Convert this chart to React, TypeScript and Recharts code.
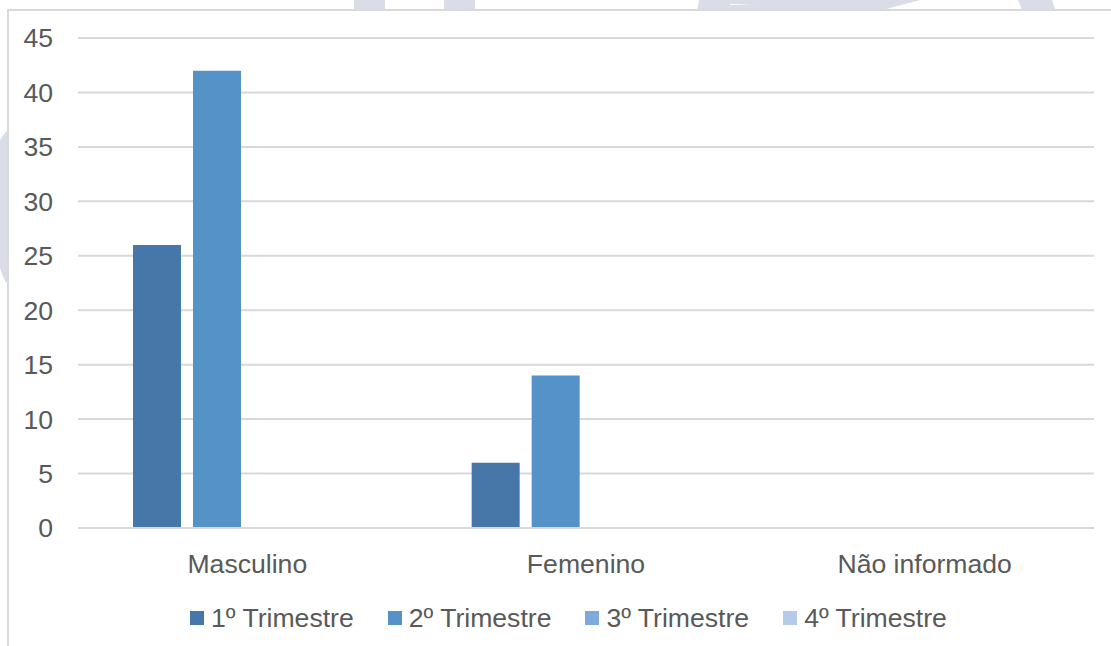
import React from 'react'
import { BarChart, Bar, XAxis, YAxis, CartesianGrid, Legend } from 'recharts'

// categories and series values
const categories = ['Masculino', 'Femenino', 'Não informado']
const trim1 = [26, 6, 0]
const trim2 = [42, 14, 0]
const trim3 = [0, 0, 0]
const trim4 = [0, 0, 0]
const yTicks = [0, 5, 10, 15, 20, 25, 30, 35, 40, 45]

const SERIES = [
  { key: 't1', name: '1º Trimestre', color: '#4677A8', values: trim1 },
  { key: 't2', name: '2º Trimestre', color: '#5592C8', values: trim2 },
  { key: 't3', name: '3º Trimestre', color: '#7EAADB', values: trim3 },
  { key: 't4', name: '4º Trimestre', color: '#B5CBE9', values: trim4 }
]

const chartData = categories.map((name, i) => {
  const row: Record<string, string | number> = { name }
  SERIES.forEach((s) => {
    row[s.key] = s.values[i]
  })
  return row
})

const FONT = '"Liberation Sans", Arial, sans-serif'
const TEXT = '#595959'
const GRID = '#D9D9D9'
const MARK = '#D8DDE8'

function renderLegend(props: any) {
  const { payload } = props
  return (
    <div
      style={{
        display: 'flex',
        alignItems: 'center',
        height: 30,
        paddingLeft: 190,
        gap: 34,
        fontFamily: FONT,
        fontSize: 26.6,
        color: TEXT
      }}
    >
      {payload.map((entry: any) => (
        <div key={entry.value} style={{ display: 'flex', alignItems: 'center' }}>
          <span style={{ width: 14, height: 14, background: entry.color, marginRight: 7 }} />
          <span style={{ lineHeight: '30px' }}>{entry.value}</span>
        </div>
      ))}
    </div>
  )
}

export default function App() {
  return (
    <div style={{ position: 'fixed', left: 0, top: 0, width: 1111, height: 646, overflow: 'hidden', background: '#fff' }}>
      {/* faint watermark behind the frame */}
      <svg width={1111} height={646} style={{ position: 'absolute', left: 0, top: 0 }}>
        <polygon points="354,0 385,0 385,12 354,12" fill={MARK} />
        <polygon points="444,0 475,0 475,12 444,12" fill={MARK} />
        <polygon points="699,0 880,0 880,4 730,4 730,12 697,12" fill={MARK} />
        <polygon points="880,0 920,0 875,12 730,12 730,5" fill={MARK} />
        <polygon points="1018,0 1052,0 1056,12 1023,12" fill={MARK} />
        <path d="M0,140 Q6,130 12,128 L12,290 Q4,282 0,268 Z" fill={MARK} />
      </svg>
      {/* chart frame */}
      <div
        style={{
          position: 'absolute',
          left: 7,
          top: 9,
          width: 1200,
          height: 700,
          background: '#fff',
          borderTop: `2px solid ${GRID}`,
          borderLeft: `2px solid ${GRID}`
        }}
      />
      <div style={{ position: 'absolute', left: 0, top: 0 }}>
        <BarChart
          width={1111}
          height={646}
          data={chartData}
          margin={{ top: 38, right: 17, left: 0, bottom: 28 }}
          barSize={48}
          barGap={12}
        >
          <CartesianGrid vertical={false} stroke={GRID} strokeWidth={2} />
          <XAxis
            dataKey="name"
            axisLine={{ stroke: GRID, strokeWidth: 2 }}
            tickLine={false}
            tickSize={0}
            tickMargin={26}
            height={60}
            tick={{ fill: TEXT, fontSize: 26.6, fontFamily: FONT }}
          />
          <YAxis
            domain={[0, 45]}
            ticks={yTicks}
            interval={0}
            axisLine={false}
            tickLine={false}
            tickSize={0}
            tickMargin={25}
            width={78}
            tick={{ fill: TEXT, fontSize: 26.6, fontFamily: FONT }}
          />
          <Legend content={renderLegend} verticalAlign="bottom" wrapperStyle={{ top: 603, left: 0 }} />
          {SERIES.map((s) => (
            <Bar key={s.key} dataKey={s.key} name={s.name} fill={s.color} isAnimationActive={false} />
          ))}
        </BarChart>
      </div>
    </div>
  )
}
